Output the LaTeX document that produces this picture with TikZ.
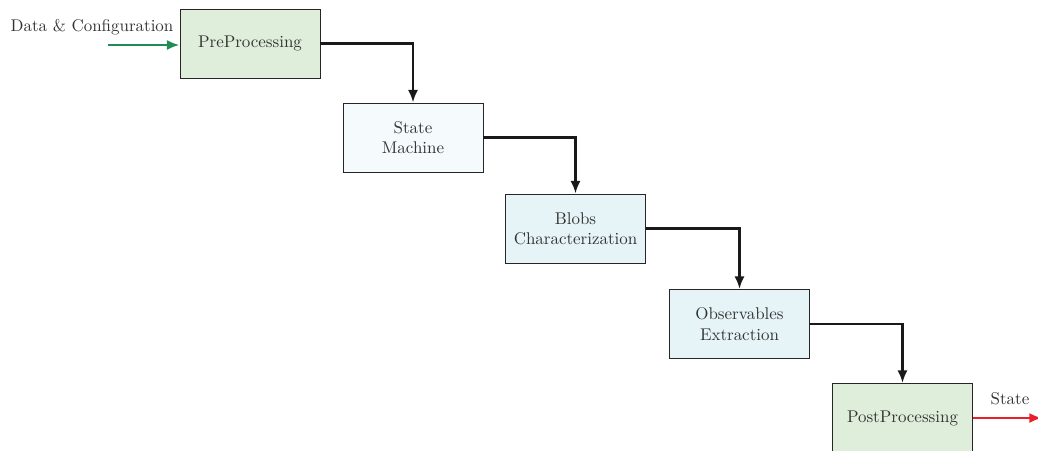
\documentclass[tikz,border=0pt]{standalone}
\usetikzlibrary{arrows.meta}
\definecolor{boxgreen}{HTML}{DFEEDA}
\definecolor{boxpale}{HTML}{F5FAFC}
\definecolor{boxcyan}{HTML}{E6F4F8}
\definecolor{ingreen}{HTML}{1E8C55}
\definecolor{outred}{HTML}{E8202A}
\definecolor{txt}{HTML}{333333}
\begin{document}
\begin{tikzpicture}[x=0.59pt,y=-0.59pt,
  stagebox/.style={draw=black!85,line width=0.5pt,minimum width=82.6pt,minimum height=40.7pt,align=center,text=txt,inner sep=2pt},
  flow/.style={line width=1.5pt,black!90,-{Latex[length=7.5pt,width=6pt]}},
  lbl/.style={text=txt,inner sep=1pt}]
\useasboundingbox (0,0) rectangle (1038,450);
\node[stagebox,fill=boxgreen] (pre) at (250,43.5) {PreProcessing};
\node[stagebox,fill=boxpale] (sm) at (413,137.5) {State\\Machine};
\node[stagebox,fill=boxcyan] (blobs) at (575.5,228.5) {Blobs\\Characterization};
\node[stagebox,fill=boxcyan] (obs) at (739.5,324) {Observables\\Extraction};
\node[stagebox,fill=boxgreen] (post) at (902.5,418) {PostProcessing};
\coordinate (in) at (108,45);
\coordinate (out) at (1042,418);
\node[lbl] (inlbl) at (92,27) {Data \& Configuration};
\node[lbl] (outlbl) at (1010,399) {State};
\draw[flow] (pre.east) -| (sm.north);
\draw[flow] (sm.east) -| (blobs.north);
\draw[flow] (blobs.east) -| (obs.north);
\draw[flow] (obs.east) -| (post.north);
\draw[flow,ingreen] (in) -- (pre.west |- in);
\draw[flow,outred] (post.east |- out) -- (out);
\end{tikzpicture}
\end{document}
